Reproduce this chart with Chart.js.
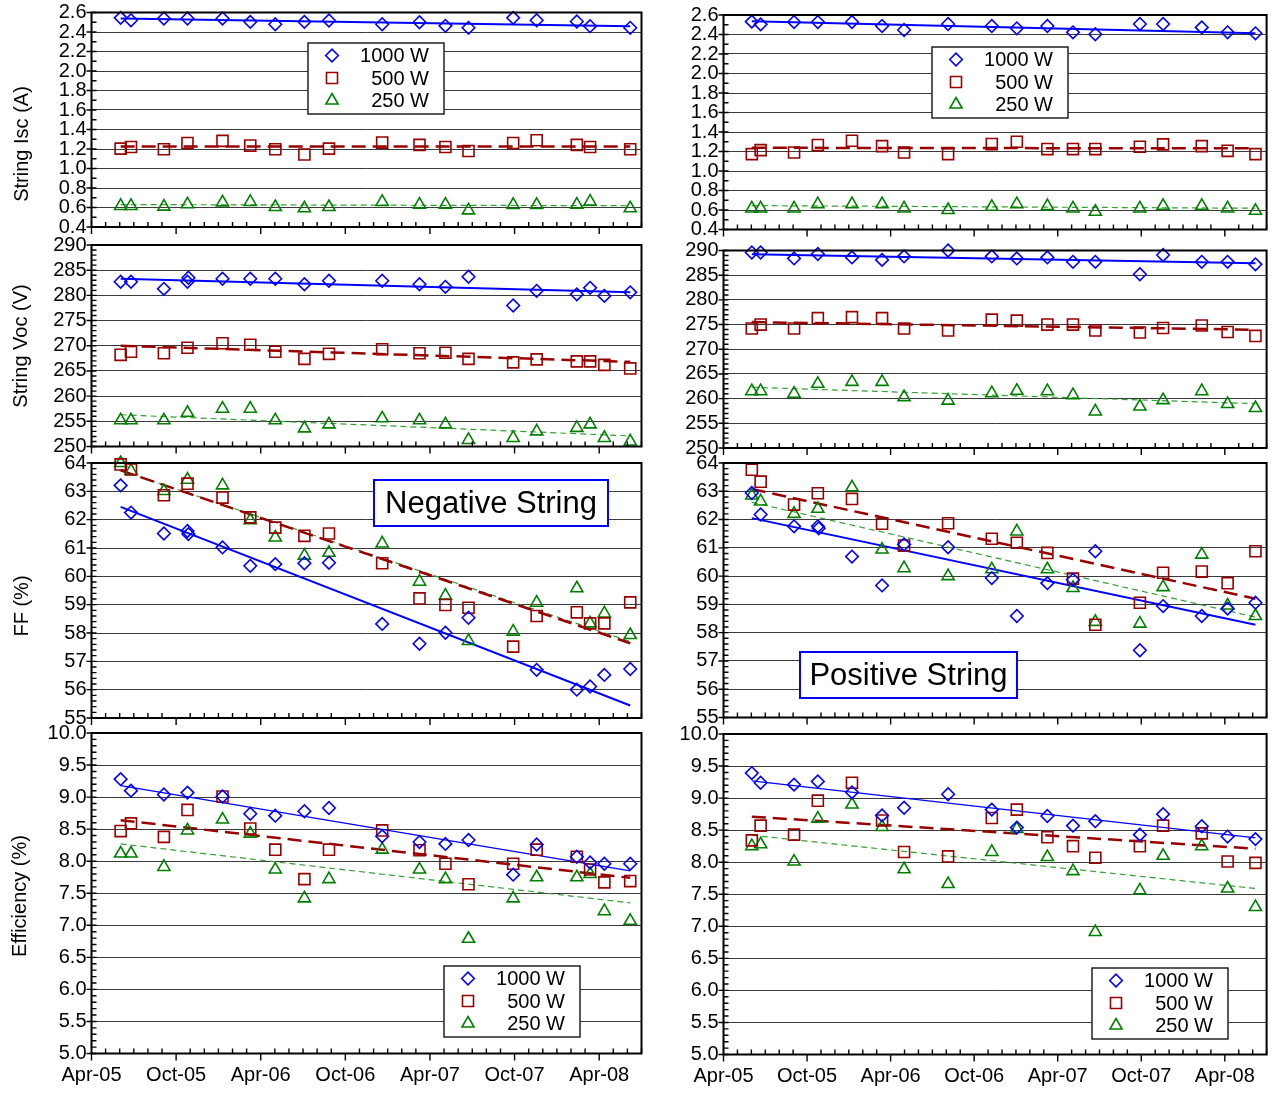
<!DOCTYPE html>
<html>
<head>
<meta charset="utf-8">
<title>String Isc, Voc, FF and Efficiency – Negative and Positive String</title>
<script src="https://cdn.jsdelivr.net/npm/chart.js@4.4.1/dist/chart.umd.min.js"></script>
<style>
  html, body { margin: 0; padding: 0; background: #ffffff; }
  body { width: 1276px; height: 1093px; position: relative; overflow: hidden; }
  canvas { position: absolute; }
</style>
</head>
<body>
<script>
// ---------- measurement dates ----------
const negDates = ['2005-06-03','2005-06-25','2005-09-05','2005-10-26','2005-10-28','2006-01-10','2006-03-09',
  '2006-05-02','2006-07-04','2006-08-27','2006-12-20','2007-03-09','2007-05-04','2007-06-23','2007-09-28',
  '2007-11-18','2008-02-13','2008-03-12','2008-04-12','2008-06-07'];
const posDates = ['2005-06-02','2005-06-21','2005-09-03','2005-10-25','2005-10-27','2006-01-08','2006-03-13',
  '2006-04-30','2006-08-05','2006-11-09','2007-01-03','2007-03-09','2007-05-04','2007-06-22','2007-09-28',
  '2007-11-18','2008-02-11','2008-04-07','2008-06-07'];

// ---------- axis ticks ----------
const xTickMonths = [0, 6, 12, 18, 24, 30, 36];           // months after April 2005
const xTickLabels = ['Apr-05','Oct-05','Apr-06','Oct-06','Apr-07','Oct-07','Apr-08'];
const iscTicks = [0.4,0.6,0.8,1.0,1.2,1.4,1.6,1.8,2.0,2.2,2.4,2.6];
const vocTicks = [250,255,260,265,270,275,280,285,290];
const ffTicks  = [55,56,57,58,59,60,61,62,63,64];
const effTicks = [5.0,5.5,6.0,6.5,7.0,7.5,8.0,8.5,9.0,9.5,10.0];

const seriesNames = ['1000 W', '500 W', '250 W'];

// ---------- negative string ----------
const negIsc1000 = [2.545,2.521,2.538,2.538,null,2.538,2.504,2.48,2.504,2.518,2.48,2.50,2.463,2.443,2.545,2.521,2.508,2.46,null,2.443];
const negIsc500  = [1.204,1.221,1.197,1.262,null,1.283,1.235,1.197,1.143,1.204,1.266,1.242,1.221,1.180,1.262,1.290,1.242,1.221,null,1.197];
const negIsc250  = [0.616,0.616,0.609,0.633,null,0.653,0.657,0.605,0.592,0.605,0.657,0.63,0.63,0.571,0.626,0.626,0.63,0.66,null,0.592];

const negVoc1000 = [282.7,282.7,281.3,282.7,283.5,283.3,283.3,283.3,282.2,282.9,282.9,282.2,281.7,283.7,278.0,280.9,280.2,281.5,279.9,280.6];
const negVoc500  = [268.2,268.8,268.5,269.6,null,270.5,270.2,268.8,267.4,268.4,269.3,268.5,268.6,267.4,266.7,267.3,266.9,266.9,266.2,265.5];
const negVoc250  = [255.2,255.2,255.2,256.7,null,257.5,257.5,255.2,253.6,254.4,255.6,255.2,254.4,251.3,251.7,253.0,253.7,254.4,251.7,251.0];

const negFf1000 = [63.21,62.25,61.51,61.60,61.49,61.02,60.37,60.43,60.46,60.48,58.32,57.62,58.01,58.54,null,56.70,56.00,56.11,56.52,56.73];
const negFf500  = [63.95,63.77,62.86,63.27,null,62.78,62.08,61.72,61.43,61.51,60.46,59.22,58.99,58.89,57.52,58.60,58.73,58.34,58.34,59.08];
const negFf250  = [64.00,63.72,63.01,63.41,null,63.21,61.98,61.37,60.73,60.83,61.16,59.81,59.32,57.72,58.05,59.07,59.58,58.34,58.69,57.93];

const negEff1000 = [9.28,9.10,9.04,9.07,null,9.01,8.74,8.71,8.78,8.83,8.39,8.30,8.27,8.33,7.79,8.26,8.07,7.98,7.96,7.96];
const negEff500  = [8.47,8.59,8.38,8.80,null,9.01,8.51,8.18,7.72,8.18,8.48,8.17,7.96,7.64,7.96,8.18,8.07,7.87,7.67,7.69];
const negEff250  = [8.12,8.12,7.91,8.48,null,8.65,8.43,7.87,7.42,7.72,8.18,7.87,7.72,6.79,7.42,7.75,7.75,7.80,7.22,7.07];

// linear trend lines: [value at first date, value at last date]
const negIscTrend = [[2.538, 2.46], [1.225, 1.225], [0.63, 0.618]];
const negVocTrend = [[283.3, 280.6], [270.0, 266.8], [256.3, 252.1]];
const negFfTrend  = [[62.45, 55.44], [63.74, 57.64], [63.74, 57.70]];
const negEffTrend = [[9.18, 7.85], [8.64, 7.74], [8.27, 7.35]];

// ---------- positive string ----------
const posIsc1000 = [2.532,2.504,2.528,2.528,null,2.528,2.487,2.446,2.508,2.487,2.463,2.487,2.422,2.402,2.508,2.508,2.473,2.422,2.412];
const posIsc500  = [1.173,1.214,1.190,1.266,null,1.310,1.255,1.190,1.173,1.276,1.300,1.225,1.225,1.225,1.249,1.273,1.255,1.207,1.173];
const posIsc250  = [0.616,0.616,0.616,0.660,null,0.660,0.660,0.616,0.600,0.633,0.660,0.640,0.616,0.582,0.616,0.643,0.643,0.616,0.592];

const posVoc1000 = [289.6,289.6,288.4,289.3,null,288.6,288.1,288.8,290.0,288.8,288.4,288.6,287.7,287.7,285.2,289.1,287.7,287.7,287.2];
const posVoc500  = [274.2,275.0,274.2,276.3,null,276.5,276.3,274.2,273.8,276.0,275.8,275.0,275.0,273.8,273.4,274.3,274.8,273.5,272.7];
const posVoc250  = [261.5,261.5,261.0,263.0,null,263.4,263.4,260.3,259.6,261.1,261.6,261.5,260.7,257.4,258.4,259.7,261.5,258.9,258.1];

const posFf1000 = [62.94,62.18,61.76,61.76,61.69,60.69,59.67,61.12,61.02,59.93,58.59,59.75,59.87,60.88,57.38,58.94,58.59,58.85,59.06];
const posFf500  = [63.76,63.34,62.53,62.93,null,62.73,61.85,61.08,61.87,61.32,61.18,60.82,59.91,58.28,59.06,60.12,60.16,59.75,60.88];
const posFf250  = [62.85,62.64,62.20,62.38,null,63.14,60.94,60.28,60.00,60.24,61.58,60.24,59.58,58.38,58.32,59.61,60.76,58.96,58.59];

const posEff1000 = [9.39,9.24,9.21,9.26,null,9.09,8.73,8.85,9.06,8.82,8.54,8.72,8.57,8.64,8.43,8.75,8.56,8.40,8.36];
const posEff500  = [8.34,8.57,8.43,8.96,null,9.24,8.65,8.16,8.09,8.69,8.82,8.39,8.25,8.07,8.25,8.57,8.45,8.01,7.99];
const posEff250  = [8.25,8.28,8.01,8.68,null,8.90,8.55,7.89,7.66,8.16,8.52,8.08,7.86,6.91,7.56,8.10,8.25,7.59,7.30];

const posIscTrend = [[2.535, 2.412], [1.238, 1.232], [0.645, 0.618]];
const posVocTrend = [[289.26, 287.44], [275.5, 273.95], [262.3, 258.97]];
const posFfTrend  = [[62.05, 58.28], [63.08, 59.2], [62.61, 58.55]];
const posEffTrend = [[9.27, 8.38], [8.71, 8.21], [8.42, 7.59]];

// ---------- styling ----------
const FONT = "'Liberation Sans', Arial, Helvetica, sans-serif";
const markerStyles = [
  { pointStyle: 'rectRot',  radius: 6.3, color: '#0000ff' },
  { pointStyle: 'rect',     radius: 7.8, color: '#990000' },
  { pointStyle: 'triangle', radius: 7.0, color: '#008000' }
];
const trendStyles = [
  { color: '#0000ff', width: 2,   dash: [] },
  { color: '#990000', width: 2.5, dash: [14, 7] },
  { color: '#33a033', width: 1.2, dash: [6, 4] }
];

const iscAxis = { ticks: iscTicks, minor: 0.1, majorEvery: 2, decimals: 1 };
const vocAxis = { ticks: vocTicks, minor: 1,   majorEvery: 5, decimals: 0 };
const ffAxis  = { ticks: ffTicks,  minor: 0.2, majorEvery: 5, decimals: 0 };
const effAxis = { ticks: effTicks, minor: 0.1, majorEvery: 5, decimals: 1 };

// page layout: two columns of four stacked panels
const columns = [
  { x0: 0,   x1: 660,  left: 91.5,  right: 641.5, dates: negDates },
  { x0: 660, x1: 1276, left: 723.5, right: 1272,  dates: posDates }
];

const panels = [
  { col: 0, top: 12.5, bottom: 227,    axis: iscAxis, series: [negIsc1000, negIsc500, negIsc250], trends: negIscTrend,
    title: 'String Isc (A)', titlePos: [22, 144], legend: [308, 43] },
  { col: 0, top: 245,  bottom: 446.5,  axis: vocAxis, series: [negVoc1000, negVoc500, negVoc250], trends: negVocTrend,
    title: 'String Voc (V)', titlePos: [21, 346] },
  { col: 0, top: 463,  bottom: 718,    axis: ffAxis,  series: [negFf1000, negFf500, negFf250], trends: negFfTrend,
    title: 'FF (%)', titlePos: [22, 606], note: { text: 'Negative String', box: [374, 480, 234, 46] } },
  { col: 0, top: 733,  bottom: 1053.5, axis: effAxis, series: [negEff1000, negEff500, negEff250], trends: negEffTrend,
    title: 'Efficiency (%)', titlePos: [20, 896], legend: [444, 966], xLabels: true, thin: true },

  { col: 1, top: 15,    bottom: 229.5, axis: iscAxis, series: [posIsc1000, posIsc500, posIsc250], trends: posIscTrend,
    legend: [932, 47] },
  { col: 1, top: 250.5, bottom: 448,   axis: vocAxis, series: [posVoc1000, posVoc500, posVoc250], trends: posVocTrend },
  { col: 1, top: 463,   bottom: 717.5, axis: ffAxis,  series: [posFf1000, posFf500, posFf250], trends: posFfTrend,
    note: { text: 'Positive String', box: [800, 652, 217, 46] } },
  { col: 1, top: 734,   bottom: 1054.5, axis: effAxis, series: [posEff1000, posEff500, posEff250], trends: posEffTrend,
    legend: [1092, 968], xLabels: true, thin: true }
];

// months elapsed since 1 April 2005
function toMonths(s) {
  const [y, m, d] = s.split('-').map(Number);
  const daysInMonth = new Date(Date.UTC(y, m, 0)).getUTCDate();
  return (y - 2005) * 12 + (m - 4) + (d - 1) / daysInMonth;
}

function drawMarker(ctx, style, x, y) {
  ctx.strokeStyle = style.color;
  ctx.fillStyle = 'rgba(0,0,0,0)';
  ctx.lineWidth = 1.6;
  if (Chart.helpers && Chart.helpers.drawPoint) {
    Chart.helpers.drawPoint(ctx, { pointStyle: style.pointStyle, radius: style.radius, rotation: 0, borderWidth: 1.6 }, x, y);
  }
}

// frame, tick marks, axis title, legend box and caption box of one panel
function panelDecor(p, c, cTop) {
  return {
    id: 'panelDecor',
    afterDatasetsDraw(chart) {
      const { ctx, chartArea: a, scales: { x, y } } = chart;
      ctx.save();
      ctx.strokeStyle = '#000';
      ctx.lineWidth = 1.4;
      ctx.beginPath();
      const nY = Math.round((y.max - y.min) / p.axis.minor);
      for (let i = 0; i <= nY; i++) {
        const py = y.getPixelForValue(y.min + i * p.axis.minor);
        if (i % p.axis.majorEvery === 0) { ctx.moveTo(a.left - 5, py); ctx.lineTo(a.left + 5, py); }
        else { ctx.moveTo(a.left, py); ctx.lineTo(a.left + 5, py); }
      }
      for (let m = Math.ceil(x.min); m <= x.max; m++) {
        const px = x.getPixelForValue(m);
        if (m % 6 === 0) { ctx.moveTo(px, a.bottom); ctx.lineTo(px, a.bottom + 7); }
        else { ctx.moveTo(px, a.bottom - 5); ctx.lineTo(px, a.bottom); }
      }
      ctx.stroke();
      ctx.lineWidth = 2;
      ctx.strokeRect(a.left, a.top, a.right - a.left, a.bottom - a.top);

      if (p.title) {
        ctx.save();
        ctx.translate(p.titlePos[0] - c.x0, p.titlePos[1] - cTop);
        ctx.rotate(-Math.PI / 2);
        ctx.font = '20px ' + FONT;
        ctx.fillStyle = '#000';
        ctx.textAlign = 'center';
        ctx.textBaseline = 'middle';
        ctx.fillText(p.title, 0, 0);
        ctx.restore();
      }

      if (p.legend) {
        const lx = p.legend[0] - c.x0, ly = p.legend[1] - cTop;
        ctx.fillStyle = '#fff';
        ctx.fillRect(lx, ly, 136, 71);
        ctx.lineWidth = 1.5;
        ctx.strokeStyle = '#222';
        ctx.strokeRect(lx, ly, 136, 71);
        seriesNames.forEach((name, i) => {
          const ry = ly + 12.5 + i * 22.5;
          drawMarker(ctx, markerStyles[i], lx + 24, ry);
          ctx.font = '20px ' + FONT;
          ctx.fillStyle = '#000';
          ctx.textAlign = 'right';
          ctx.textBaseline = 'middle';
          ctx.fillText(name, lx + 121, ry + 1);
        });
      }

      if (p.note) {
        const [bx, by, bw, bh] = p.note.box;
        const nx = bx - c.x0, ny = by - cTop;
        ctx.fillStyle = '#fff';
        ctx.fillRect(nx, ny, bw, bh);
        ctx.lineWidth = 2;
        ctx.strokeStyle = '#0000ff';
        ctx.strokeRect(nx, ny, bw, bh);
        ctx.font = '31px ' + FONT;
        ctx.fillStyle = '#000';
        ctx.textAlign = 'center';
        ctx.textBaseline = 'middle';
        ctx.fillText(p.note.text, nx + bw / 2, ny + bh / 2 + 1);
      }
      ctx.restore();
    }
  };
}

panels.forEach(p => {
  const c = columns[p.col];
  const cTop = Math.floor(p.top - 16);
  const cBot = Math.ceil(p.bottom + (p.xLabels ? 46 : 16));
  const canvas = document.createElement('canvas');
  canvas.width = c.x1 - c.x0;
  canvas.height = cBot - cTop;
  canvas.style.left = c.x0 + 'px';
  canvas.style.top = cTop + 'px';
  canvas.style.width = canvas.width + 'px';
  canvas.style.height = canvas.height + 'px';
  document.body.appendChild(canvas);

  const first = toMonths(c.dates[0]);
  const last = toMonths(c.dates[c.dates.length - 1]);
  const datasets = [];
  p.series.forEach((vals, i) => {
    const m = markerStyles[i];
    datasets.push({
      label: seriesNames[i],
      data: c.dates.map((d, k) => ({ x: toMonths(d), y: vals[k] })).filter(pt => pt.y !== null),
      showLine: false,
      pointStyle: m.pointStyle,
      pointRadius: m.radius,
      pointBorderColor: m.color,
      pointBackgroundColor: 'rgba(0,0,0,0)',
      pointBorderWidth: 1.6,
      clip: false
    });
  });
  p.trends.forEach((t, i) => {
    const s = trendStyles[i];
    datasets.push({
      label: seriesNames[i] + ' trend',
      data: [{ x: first, y: t[0] }, { x: last, y: t[1] }],
      showLine: true,
      pointRadius: 0,
      borderColor: s.color,
      borderWidth: (p.thin && i === 0) ? 1.2 : s.width,
      borderDash: s.dash,
      fill: false
    });
  });

  const yTicks = p.axis.ticks;
  new Chart(canvas, {
    type: 'scatter',
    data: { datasets },
    options: {
      responsive: false,
      maintainAspectRatio: false,
      animation: false,
      devicePixelRatio: 1,
      events: [],
      layout: { padding: { left: 0, top: p.top - cTop, right: c.x1 - c.right, bottom: 0 } },
      plugins: { legend: { display: false }, tooltip: { enabled: false } },
      scales: {
        x: {
          type: 'linear',
          min: 0,
          max: 39,
          afterBuildTicks: s => { s.ticks = xTickMonths.map(v => ({ value: v })); },
          afterFit: s => { s.height = cBot - p.bottom; },
          ticks: {
            display: !!p.xLabels,
            autoSkip: false,
            maxRotation: 0,
            padding: 10,
            color: '#000',
            font: { family: FONT, size: 20 },
            callback: (v, i) => xTickLabels[i]
          },
          grid: { display: false, drawTicks: false },
          border: { display: false }
        },
        y: {
          type: 'linear',
          min: yTicks[0],
          max: yTicks[yTicks.length - 1],
          afterBuildTicks: s => { s.ticks = yTicks.map(v => ({ value: v })); },
          afterFit: s => { s.width = c.left - c.x0; },
          ticks: {
            autoSkip: false,
            padding: 5,
            color: '#000',
            font: { family: FONT, size: 20, lineHeight: 1 },
            callback: v => Number(v).toFixed(p.axis.decimals)
          },
          grid: { color: '#3a3a3a', lineWidth: 1, drawTicks: false },
          border: { display: false }
        }
      }
    },
    plugins: [panelDecor(p, c, cTop)]
  });
});
</script>
</body>
</html>
